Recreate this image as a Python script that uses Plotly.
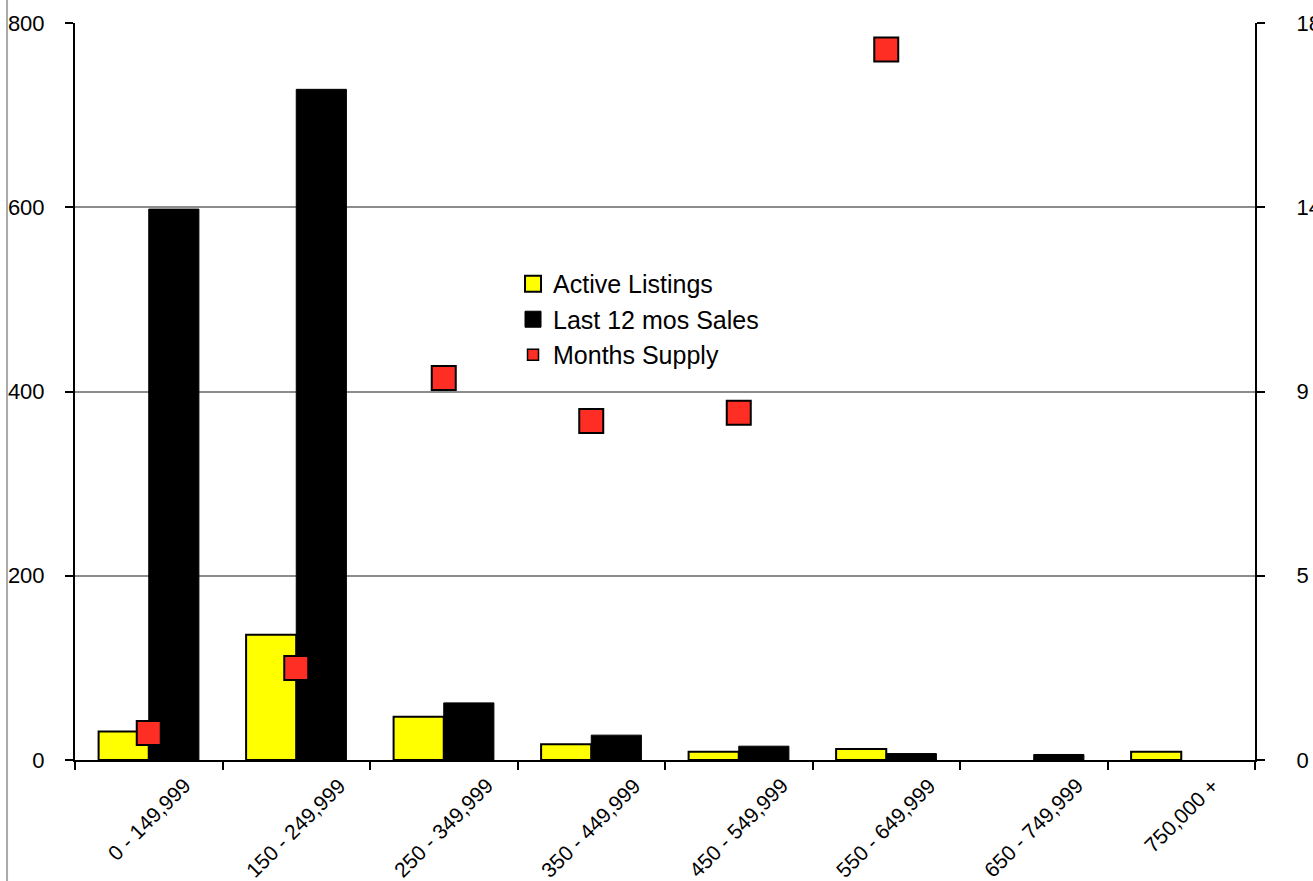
import plotly.graph_objects as go

categories = ["0 - 149,999", "150 - 249,999", "250 - 349,999", "350 - 449,999",
              "450 - 549,999", "550 - 649,999", "650 - 749,999", "750,000 +"]
active_listings = [31, 136, 47, 17, 9, 12, 0, 9]
last12_sales = [598, 728, 62, 27, 15, 7, 6, 0]
months_supply = [0.66, 2.25, 9.33, 8.28, 8.48, 17.35, None, None]

left_ticks = [0, 200, 400, 600, 800]
right_tickvals = [0, 4.5, 9, 13.5, 18]
right_ticktext = ["0", "5", "9", "14", "18"]

YELLOW = "#FFFF00"
RED = "#FF2E24"
FONT = "Liberation Sans, Arial, Helvetica, sans-serif"

fig = go.Figure()
fig.add_trace(go.Bar(x=categories, y=active_listings, name="Active Listings",
                     marker=dict(color=YELLOW,
                                 line=dict(color="black",
                                           width=[2 if v else 0 for v in active_listings])),
                     showlegend=False))
fig.add_trace(go.Bar(x=categories, y=last12_sales, name="Last 12 mos Sales",
                     marker=dict(color="black",
                                 line=dict(color="black",
                                           width=[1 if v else 0 for v in last12_sales])),
                     showlegend=False))
fig.add_trace(go.Scatter(x=categories, y=months_supply, name="Months Supply", yaxis="y2",
                         mode="markers", cliponaxis=False,
                         marker=dict(symbol="square", size=24, color=RED,
                                     line=dict(color="black", width=2)),
                         showlegend=False))

# legend entries
fig.add_trace(go.Scatter(x=[None], y=[None], mode="markers", name="Active Listings",
                         marker=dict(symbol="square", size=16, color=YELLOW,
                                     line=dict(color="black", width=2))))
fig.add_trace(go.Scatter(x=[None], y=[None], mode="markers", name="Last 12 mos Sales",
                         marker=dict(symbol="square", size=16, color="black",
                                     line=dict(color="black", width=1))))
fig.add_trace(go.Scatter(x=[None], y=[None], mode="markers", name="Months Supply",
                         marker=dict(symbol="square", size=11, color=RED,
                                     line=dict(color="black", width=1.5))))

annotations = []
for c in categories:
    annotations.append(dict(x=c, xref="x", y=0, yref="paper", text=c, showarrow=False,
                            textangle=-45, xanchor="center", yanchor="top", yshift=-11,
                            font=dict(family=FONT, size=21, color="black")))

fig.update_layout(
    width=1313, height=881,
    margin=dict(l=75, r=58, t=23, b=121, pad=0, autoexpand=False),
    paper_bgcolor="white", plot_bgcolor="white",
    font=dict(family=FONT, color="black"),
    barmode="group", bargap=0.32, bargroupgap=0,
    xaxis=dict(type="category", range=[-0.5, 7.5], showgrid=False, zeroline=False,
               showline=True, linecolor="black", linewidth=2, automargin=False,
               ticks="outside", tickson="boundaries", ticklen=8, tickwidth=2,
               tickcolor="black", showticklabels=False, layer="above traces"),
    yaxis=dict(range=[0, 800], tickvals=left_ticks, showgrid=True, gridcolor="#8c8c8c",
               gridwidth=2, zeroline=False, showline=True, linecolor="black", linewidth=2,
               ticks="outside", ticklen=8, tickwidth=2, tickcolor="black", automargin=False,
               tickfont=dict(family=FONT, size=22), ticklabelstandoff=16),
    yaxis2=dict(range=[0, 18], overlaying="y", side="right", tickvals=right_tickvals,
                ticktext=right_ticktext, showgrid=False, zeroline=False, showline=True,
                linecolor="black", linewidth=2, ticks="outside", ticklen=8, tickwidth=2,
                tickcolor="black", tickfont=dict(family=FONT, size=22), automargin=False,
                ticklabelstandoff=27),
    legend=dict(x=0.3712, y=0.6771, xanchor="left", yanchor="top",
                bgcolor="rgba(0,0,0,0)", borderwidth=0, tracegroupgap=0,
                font=dict(family=FONT, size=25, color="black")),
    annotations=annotations,
    shapes=[dict(type="line", xref="paper", yref="paper", x0=-0.0576, x1=-0.0576,
                 y0=-0.17, y1=1.04, line=dict(color="#aaaaaa", width=2))],
    showlegend=True,
)

fig.write_html("out.html", config={"displayModeBar": False},
               post_script="document.body.style.margin='0';document.body.style.overflow='hidden';")
